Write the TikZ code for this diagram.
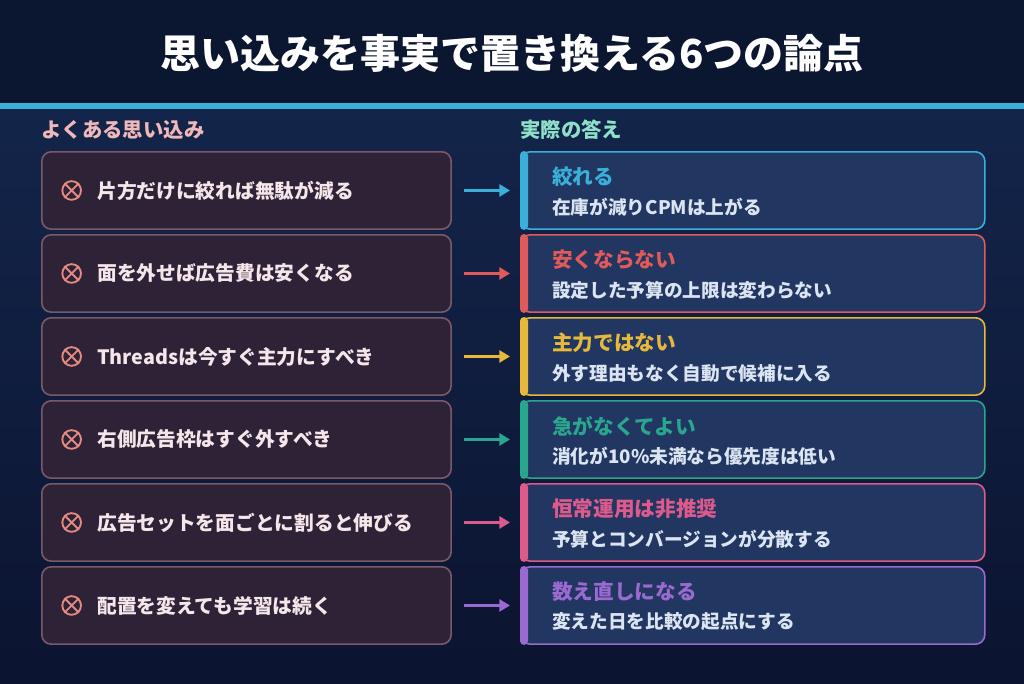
\documentclass[tikz,border=0pt]{standalone}
\usepackage{fontspec}
\setmainfont{Noto Sans CJK JP}[BoldFont={Noto Sans CJK JP Black}]
\usetikzlibrary{arrows.meta,positioning}
\definecolor{bgtop}{HTML}{15284F}
\definecolor{bgbot}{HTML}{0B1430}
\definecolor{titlebg}{HTML}{0B1630}
\definecolor{rule}{HTML}{3AB0D8}
\definecolor{mythfill}{HTML}{2E2236}
\definecolor{mythline}{HTML}{7A5A6A}
\definecolor{mythtext}{HTML}{F5E6EA}
\definecolor{cross}{HTML}{E58A80}
\definecolor{mythhead}{HTML}{F0B8B8}
\definecolor{facthead}{HTML}{8EE0C8}
\definecolor{factfill}{HTML}{213660}
\definecolor{facttext}{HTML}{DBE4F2}
\definecolor{cA}{HTML}{3AB0D8}
\definecolor{cB}{HTML}{E05A5A}
\definecolor{cC}{HTML}{E6B83C}
\definecolor{cD}{HTML}{2AA68E}
\definecolor{cE}{HTML}{DC5A8C}
\definecolor{cF}{HTML}{9A6AD0}
\tikzset{
  myth/.style={draw=mythline, line width=1.2pt, fill=mythfill, rounded corners=7pt,
    minimum width=307pt, minimum height=58pt, anchor=north west},
  fact/.style={draw=#1, line width=1.2pt, fill=factfill, rounded corners=7pt,
    minimum width=348pt, minimum height=58pt, anchor=north west},
  txt/.style={font=\bfseries\fontsize{14.8}{17}\selectfont, text=mythtext, anchor=west, inner sep=0pt},
}
\begin{document}
\begin{tikzpicture}[x=0.75pt,y=-0.75pt]
  \useasboundingbox (0,0) rectangle (1024,683);
  \shade[top color=bgtop, bottom color=bgbot] (0,0) rectangle (1024,683);
  \fill[titlebg] (0,0) rectangle (1024,103);
  \fill[rule] (0,103) rectangle (1024,109);
  \node[font=\bfseries\fontsize{30}{36}\selectfont, text=white] (title) at (512,53)
    {思い込みを事実で置き換える6つの論点};
  \node[font=\bfseries\fontsize{15.3}{17}\selectfont, text=mythhead, anchor=west, inner sep=0pt]
    (mythlabel) at (41,130) {よくある思い込み};
  \node[font=\bfseries\fontsize{15.3}{17}\selectfont, text=facthead, anchor=west, inner sep=0pt]
    (factlabel) at (520,130) {実際の答え};
  \foreach \i/\c/\myth/\head/\body in {
      0/cA/片方だけに絞れば無駄が減る/絞れる/在庫が減りCPMは上がる,
      1/cB/面を外せば広告費は安くなる/安くならない/設定した予算の上限は変わらない,
      2/cC/Threadsは今すぐ主力にすべき/主力ではない/外す理由もなく自動で候補に入る,
      3/cD/右側広告枠はすぐ外すべき/急がなくてよい/消化が10\%未満なら優先度は低い,
      4/cE/広告セットを面ごとに割ると伸びる/恒常運用は非推奨/予算とコンバージョンが分散する,
      5/cF/配置を変えても学習は続く/数え直しになる/変えた日を比較の起点にする} {
    \pgfmathsetmacro\top{151+83*\i}
    \node[myth] (myth\i) at (41,\top) {};
    \node[fact=\c] (fact\i) at (520,\top) {};
    \fill[\c, rounded corners=3pt] (fact\i.north west) rectangle ([xshift=6pt]fact\i.south west);
    % cross icon
    \node[circle, draw=cross, line width=1.4pt, minimum size=14pt, inner sep=0pt] (icon\i)
      at ([xshift=23pt]myth\i.west) {};
    \draw[cross, line width=1.4pt] (icon\i.north west) -- (icon\i.south east)
      (icon\i.north east) -- (icon\i.south west);
    \node[txt] (mythtxt\i) at ([xshift=42pt]myth\i.west) {\myth};
    \node[txt, text=\c, font=\bfseries\fontsize{15.5}{18}\selectfont] (head\i)
      at ([xshift=24pt,yshift=-19.5pt]fact\i.north west) {\head};
    \node[txt, text=facttext, font=\bfseries\fontsize{14}{16}\selectfont] (body\i)
      at ([xshift=24pt,yshift=-42pt]fact\i.north west) {\body};
    \draw[\c, line width=2.4pt, -{Triangle[length=8pt,width=9pt]},
      shorten <=9pt, shorten >=7.5pt] (myth\i.east) -- (fact\i.west);
  }
\end{tikzpicture}
\end{document}
